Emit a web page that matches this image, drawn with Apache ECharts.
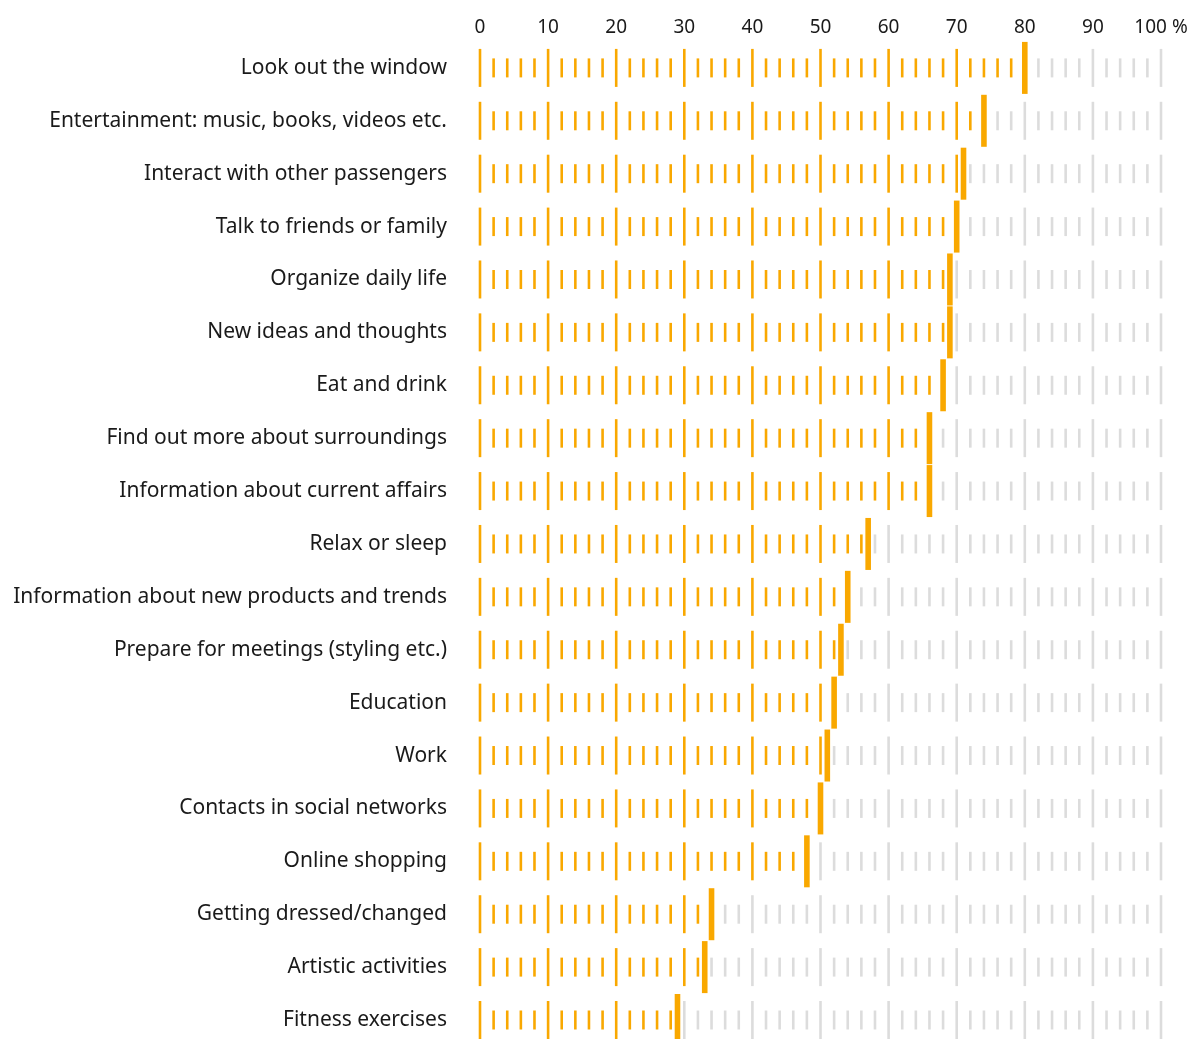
<!DOCTYPE html>
<html>
<head>
<meta charset="utf-8">
<script src="https://cdn.jsdelivr.net/npm/echarts@6/dist/echarts.min.js"></script>
<style>
html,body{margin:0;padding:0;background:#fff;}
#chart{width:1192px;height:1039px;}
</style>
</head>
<body>
<div id="chart"></div>
<script>
const categories = [
  'Look out the window',
  'Entertainment: music, books, videos etc.',
  'Interact with other passengers',
  'Talk to friends or family',
  'Organize daily life',
  'New ideas and thoughts',
  'Eat and drink',
  'Find out more about surroundings',
  'Information about current affairs',
  'Relax or sleep',
  'Information about new products and trends',
  'Prepare for meetings (styling etc.)',
  'Education',
  'Work',
  'Contacts in social networks',
  'Online shopping',
  'Getting dressed/changed',
  'Artistic activities',
  'Fitness exercises'
];
const values = [80, 74, 71, 70, 69, 69, 68, 66, 66, 57, 54, 53, 52, 51, 50, 48, 34, 33, 29];
const tickLabels = ['0','10','20','30','40','50','60','70','80','90','100 %'];
const scaleMin = 0, scaleMax = 100, majorStep = 10, minorStep = 2;

const ORANGE = '#f9a800';
const GREY = '#dcdcdc';
const FONT = '"Noto Sans", "Open Sans", sans-serif';

const chart = echarts.init(document.getElementById('chart'));
const rowData = values.map((v, i) => [v, i]);

function renderItem(params, api) {
  const val = api.value(0);
  const row = api.value(1);
  const children = [];
  for (let t = scaleMin; t <= scaleMax; t += minorStep) {
    const p = api.coord([t, row]);
    const major = t % majorStep === 0;
    const h = major ? 38 : 19;
    const w = 2.6;
    children.push({
      type: 'rect',
      shape: { x: p[0] - w / 2, y: p[1] - h / 2, width: w, height: h },
      style: { fill: t <= val ? ORANGE : GREY }
    });
  }
  const m = api.coord([val, row]);
  children.push({
    type: 'rect',
    shape: { x: m[0] - 2.8, y: m[1] - 26, width: 5.6, height: 52 },
    style: { fill: ORANGE }
  });
  return { type: 'group', children };
}

chart.setOption({
  animation: false,
  grid: { left: 480, right: 31, top: 67.9, bottom: 19, containLabel: false },
  xAxis: {
    type: 'value',
    position: 'top',
    min: scaleMin, max: scaleMax, interval: majorStep,
    axisLine: { show: false }, axisTick: { show: false }, splitLine: { show: false },
    axisLabel: {
      margin: 31,
      fontFamily: FONT, fontSize: 19, color: '#1a1a1a',
      formatter: (v) => tickLabels[Math.round((v - scaleMin) / majorStep)]
    }
  },
  yAxis: {
    type: 'category',
    inverse: true,
    boundaryGap: false,
    data: categories,
    axisLine: { show: false }, axisTick: { show: false }, splitLine: { show: false },
    axisLabel: {
      margin: 33,
      fontFamily: FONT, fontSize: 21, color: '#1a1a1a'
    }
  },
  series: [{
    type: 'custom',
    renderItem,
    clip: false,
    encode: { x: 0, y: 1 },
    data: rowData
  }]
});
</script>
</body>
</html>
